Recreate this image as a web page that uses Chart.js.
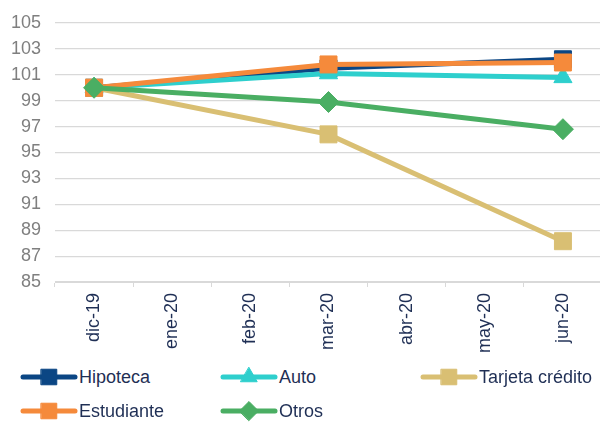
<!DOCTYPE html>
<html>
<head>
<meta charset="utf-8">
<script src="https://cdn.jsdelivr.net/npm/chart.js@4.4.1/dist/chart.umd.min.js"></script>
<style>
  body { margin: 0; background: #fff; font-family: "Liberation Sans", Arial, sans-serif; overflow: hidden; }
  #wrap { position: relative; width: 600px; height: 424px; overflow: hidden; }
  #chartBox { position: absolute; left: 0; top: 0; width: 615px; height: 360px; }
  #legend { position: absolute; left: 20px; top: 360px; display: grid; grid-template-columns: 200px 200px 180px; }
  .item { display: flex; align-items: center; height: 34px; font-size: 18px; color: #1f2f55; white-space: nowrap; }
  .item canvas { margin-right: 1px; }
</style>
</head>
<body>
<div id="wrap">
  <div id="chartBox"><canvas id="lineChart"></canvas></div>
  <div id="legend"></div>
</div>
<script>
const months = ['dic-19', 'ene-20', 'feb-20', 'mar-20', 'abr-20', 'may-20', 'jun-20'];
const hipoteca = [100, null, null, 101.5, null, null, 102.2];
const auto = [100, null, null, 101.1, null, null, 100.8];
const tarjeta = [100, null, null, 96.4, null, null, 88.15];
const estudiante = [100, null, null, 101.8, null, null, 101.95];
const otros = [100, null, null, 98.9, null, null, 96.8];

const series = [
    { label: 'Hipoteca', data: hipoteca, color: '#0b4684', style: 'rect', radius: 12, order: 5 },
    { label: 'Auto', data: auto, color: '#2ecfcd', style: 'triangle', radius: 10.5, order: 4 },
    { label: 'Tarjeta crédito', data: tarjeta, color: '#d9bf73', style: 'rect', radius: 12, order: 3 },
    { label: 'Estudiante', data: estudiante, color: '#f58a3b', style: 'rect', radius: 12, order: 2 },
    { label: 'Otros', data: otros, color: '#4aae63', style: 'rectRot', radius: 10.5, order: 1 }
];

const datasets = series.map(s => ({
    label: s.label,
    data: s.data,
    borderColor: s.color,
    backgroundColor: s.color,
    borderWidth: 5,
    pointStyle: s.style,
    pointRadius: s.radius,
    pointHoverRadius: s.radius,
    pointBorderWidth: 1,
    spanGaps: true,
    order: s.order,
    tension: 0
}));

new Chart(document.getElementById('lineChart').getContext('2d'), {
    type: 'line',
    data: { labels: months, datasets: datasets },
    options: {
        responsive: true,
        maintainAspectRatio: false,
        animation: false,
        layout: { padding: { top: 9, right: 0, bottom: 0, left: 0 } },
        scales: {
            x: {
                offset: true,
                grid: { offset: true, drawOnChartArea: false, drawTicks: true, tickLength: 5, color: '#d9d9d9' },
                border: { color: '#d9d9d9' },
                ticks: {
                    autoSkip: false, maxRotation: 90, minRotation: 90, padding: 6,
                    color: '#1f2f55', font: { family: 'Liberation Sans', size: 18 }
                },
                afterFit: scale => { scale.height = 78; }
            },
            y: {
                min: 85, max: 105,
                grid: { color: '#d9d9d9', drawTicks: false, lineWidth: 1.2 },
                border: { display: false },
                ticks: {
                    stepSize: 2, padding: 14,
                    color: '#7f7f7f', font: { family: 'Liberation Sans', size: 18, lineHeight: 1 }
                },
                afterFit: scale => { scale.width = 55; }
            }
        },
        plugins: {
            legend: { display: false },
            tooltip: { enabled: false }
        }
    }
});

// legend in three columns, symbols drawn with Chart.js helpers
const legend = document.getElementById('legend');
series.forEach(s => {
    const item = document.createElement('div');
    item.className = 'item';
    const c = document.createElement('canvas');
    c.width = 58;
    c.height = 24;
    const ctx = c.getContext('2d');
    ctx.strokeStyle = s.color;
    ctx.lineWidth = 5;
    ctx.lineCap = 'round';
    ctx.beginPath();
    ctx.moveTo(3, 12);
    ctx.lineTo(55, 12);
    ctx.stroke();
    ctx.fillStyle = s.color;
    ctx.lineWidth = 1;
    Chart.helpers.drawPoint(ctx, { pointStyle: s.style, radius: s.radius - 1, rotation: 0, borderWidth: 1 }, 29, 12);
    item.appendChild(c);
    const t = document.createElement('span');
    t.textContent = s.label;
    item.appendChild(t);
    legend.appendChild(item);
});
</script>
</body>
</html>
